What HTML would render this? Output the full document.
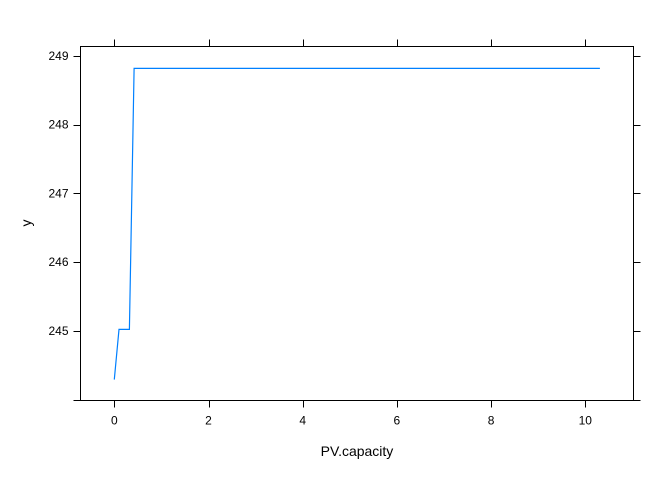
<!DOCTYPE html>
<html><head><meta charset="utf-8"><style>
body{margin:0;background:#fff;}
svg text{font-family:"Liberation Sans",Arial,sans-serif;font-size:12px;fill:#000;}
</style></head><body>
<svg id="chart" width="672" height="480" xmlns="http://www.w3.org/2000/svg"></svg>
<script>
const xs=[0,0.1,0.32,0.42,10.31];
const ys=[244.29,245.02,245.02,248.82,248.82];
const xTicks=[0,2,4,6,8,10];
const yTicks=[244,245,246,247,248,249];
const yLabels=["","245","246","247","248","249"];
const L=80.5,R=633.5,T=46.5,B=400.5;
const X=v=>114.3+v*47.1;
const Y=v=>399.5-(v-244)*68.7;
const svg=document.getElementById('chart');
const NS='http://www.w3.org/2000/svg';
function mk(tag,attrs,parent){const e=document.createElementNS(NS,tag);for(const k in attrs)e.setAttribute(k,attrs[k]);(parent||svg).appendChild(e);return e;}
const frame=mk('rect',{x:L,y:T,width:R-L,height:B-T,fill:'none',stroke:'#000','stroke-width':1});


xTicks.forEach(t=>{
  const x=Math.round(X(t))+0.5;
  const a=mk('line',{x1:x,x2:x,y1:B,y2:B+7,stroke:'#000'});
  
  
  const b=mk('line',{x1:x,x2:x,y1:T,y2:T-7,stroke:'#000'});
  
  
  const tx=mk('text',{x:X(t),y:B+24,'text-anchor':'middle'});
  tx.textContent=t;
  
  
});
yTicks.forEach((t,i)=>{
  const y=Math.round(Y(t))+0.5;
  const a=mk('line',{x1:L,x2:L-7,y1:y,y2:y,stroke:'#000'});
  
  
  const b=mk('line',{x1:R,x2:R+7,y1:y,y2:y,stroke:'#000'});
  
  
  if(yLabels[i]){
    const tx=mk('text',{x:L-12,y:Y(t)+4,'text-anchor':'end'});
    tx.textContent=yLabels[i];
    
    
  }
});
const pts=xs.map((v,i)=>X(v).toFixed(1)+','+Y(ys[i]).toFixed(1)).join(' ');
const line=mk('polyline',{points:pts,fill:'none',stroke:'#0080ff','stroke-width':1.2});


const xt=mk('text',{x:357,y:456,'text-anchor':'middle','font-size':'14px'});
xt.style.fontSize='14px';
xt.textContent='PV.capacity';


const yt=mk('text',{x:31,y:223,'text-anchor':'middle',transform:'rotate(-90 31 223)'});
yt.style.fontSize='14px';
yt.textContent='y';


</script>
</body></html>
